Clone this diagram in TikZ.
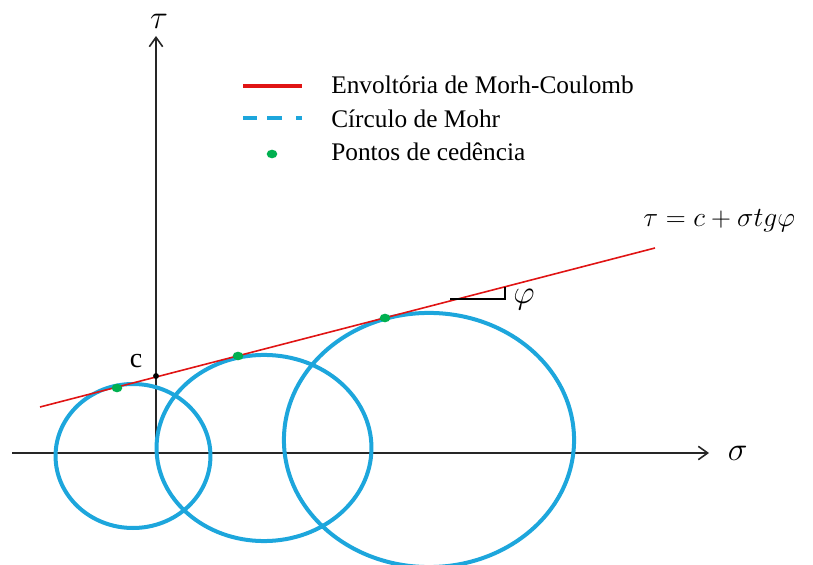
\documentclass[tikz,border=0pt]{standalone}
\usepackage{amsmath}
\usepackage{fontspec}
\setmainfont{Liberation Serif}
\usetikzlibrary{arrows.meta, positioning}

\definecolor{mohrblue}{RGB}{29,166,220}
\definecolor{envred}{RGB}{224,20,20}
\definecolor{yieldgreen}{RGB}{0,176,80}

\begin{document}
\begin{tikzpicture}[
    x=0.75pt, y=0.75pt,
    every node/.style={font=\fontsize{19}{23}\selectfont, inner sep=0pt},
    mathlabel/.style={font=\fontsize{25}{29}\selectfont},
    axis/.style={line width=1.2pt, draw=black!85, -{Straight Barb[length=7pt, width=10pt]}},
    envelope/.style={line width=1.2pt, draw=envred},
    mohr/.style={line width=3pt, draw=mohrblue},
    yield/.style={fill=yieldgreen, draw=none},
    legendline/.style={line width=3pt}
]
\useasboundingbox (0,0) rectangle (813,564);

% axes
\coordinate (sl) at (12,111);
\coordinate (sr) at (709,111);
\coordinate (tb) at (156,111);
\coordinate (tt) at (156,528);
\draw [axis] (tb) -- (tt);
\draw [axis] (sl) -- (sr);
\node (tau) [mathlabel] at (159,543) {$\tau$};
\node (sigma) [mathlabel, right=14pt of sr] {$\sigma$};

% Mohr circles
\draw [mohr] (133,108) ellipse [x radius=58.1pt, y radius=54pt];
\draw [mohr] (264,116) ellipse [x radius=80.6pt, y radius=69.8pt];
\draw [mohr] (429,124) ellipse [x radius=108.8pt, y radius=95.3pt];

% envelope
\coordinate (e1) at (40,157);
\coordinate (e2) at (655,316);
\draw [envelope] (e1) -- (e2);
\fill (156,188) circle [radius=2.2pt];
\node (c) [font=\fontsize{21}{25}\selectfont] at (136,203) {c};
\fill [yield] (117,176) ellipse [x radius=4pt, y radius=3.2pt];
\fill [yield] (238,208) ellipse [x radius=4pt, y radius=3.2pt];
\fill [yield] (385,246) ellipse [x radius=4pt, y radius=3.2pt];

% friction angle
\coordinate (a1) at (450,265);
\coordinate (a2) at (505,265);
\coordinate (a3) at (505,277);
\draw [line width=1.2pt] (a1) -- (a2) -- (a3);
\node (phi) [mathlabel] at (524,264) {$\varphi$};
\node (eq) [anchor=base west, font=\fontsize{22}{26}\selectfont] at (643,337) {$\tau = c + \sigma t g \varphi$};

% legend
\draw [legendline, envred] (243,478) -- (302,478);
\draw [legendline, mohrblue, dash pattern=on 10.5pt off 7.5pt on 11pt off 11pt on 4pt] (243,446) -- (303,446);
\fill [yield] (272,410) ellipse [x radius=4pt, y radius=3.2pt];
\node (l1) [anchor=base west] at (331,470) {Envoltória de Morh-Coulomb};
\node (l2) [anchor=base west] at (331,436) {Círculo de Mohr};
\node (l3) [anchor=base west] at (331,403) {Pontos de cedência};

\end{tikzpicture}
\end{document}
